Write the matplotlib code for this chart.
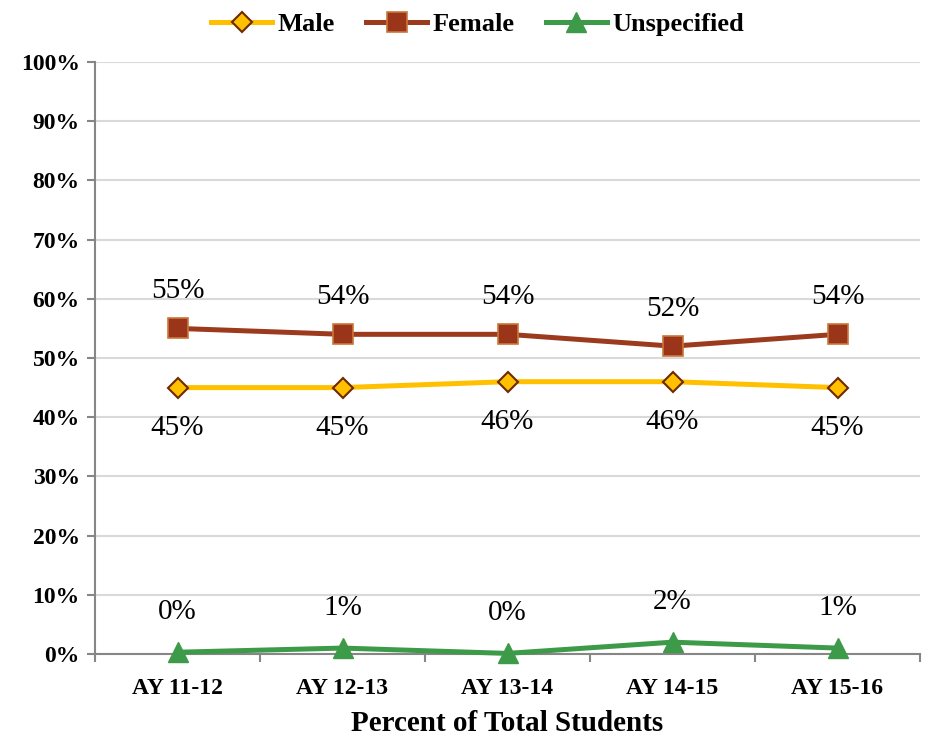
import matplotlib
matplotlib.use("Agg")
import matplotlib.pyplot as plt
from matplotlib.ticker import FuncFormatter, MultipleLocator, FixedLocator

categories = ["AY 11-12", "AY 12-13", "AY 13-14", "AY 14-15", "AY 15-16"]
male = [45, 45, 46, 46, 45]
female = [55, 54, 54, 52, 54]
unspecified = [0.3, 1, 0.1, 2, 1]
male_labels = ["45%", "45%", "46%", "46%", "45%"]
female_labels = ["55%", "54%", "54%", "52%", "54%"]
unspec_labels = ["0%", "1%", "0%", "2%", "1%"]

FONT = "Liberation Serif"
plt.rcParams["font.family"] = [FONT, "DejaVu Serif"]

fig = plt.figure(figsize=(9.29, 7.39), dpi=100)
ax = fig.add_axes([95/929, 1 - 654/739, 825/929, (654 - 62)/739])

x = list(range(len(categories)))
l1, = ax.plot(x, male, color="#FFC000", lw=3.6, marker="D", ms=10,
              mfc="#FFC000", mec="#6B2A00", mew=1.5, label="Male", zorder=3, clip_on=False)
l2, = ax.plot(x, female, color="#9C3A1E", lw=3.6, marker="s", ms=14,
              mfc="#9A3519", mec="#C8783A", mew=1.2, label="Female", zorder=3, clip_on=False)
l3, = ax.plot(x, unspecified, color="#3D9A48", lw=3.6, marker="^", ms=15,
              mfc="#3D9A48", mec="#3D9A48", label="Unspecified", zorder=3, clip_on=False)

LBL = 21
for xi, v, t in zip(x, female, female_labels):
    ax.annotate(t, (xi, v), xytext=(0, 27), textcoords="offset points",
                ha="center", va="center", fontsize=LBL, color="black")
for xi, v, t in zip(x, male, male_labels):
    ax.annotate(t, (xi, v), xytext=(0, -29), textcoords="offset points",
                ha="center", va="center", fontsize=LBL, color="black")
for xi, v, t in zip(x, unspecified, unspec_labels):
    ax.annotate(t, (xi, v), xytext=(0, 29), textcoords="offset points",
                ha="center", va="center", fontsize=LBL, color="black")

ax.set_xlim(-0.5, len(categories) - 0.5)
ax.set_ylim(0, 100)
ax.yaxis.set_major_locator(MultipleLocator(10))
ax.yaxis.set_major_formatter(FuncFormatter(lambda v, p: f"{int(v)}%"))
ax.set_xticks(x)
ax.set_xticklabels(categories)
ax.xaxis.set_minor_locator(FixedLocator([i - 0.5 for i in range(len(categories) + 1)]))
ax.tick_params(axis="x", which="major", length=0, pad=17, labelsize=17)
ax.tick_params(axis="x", which="minor", length=6, color="#868686", width=1.5, direction="out")
ax.tick_params(axis="y", length=6, color="#868686", width=1.5, labelsize=17, pad=5)
for lab in ax.get_xticklabels() + ax.get_yticklabels():
    lab.set_fontweight("bold")

ax.grid(axis="y", color="#D9D9D9", lw=1.5, zorder=0)
ax.set_axisbelow(True)
for s in ["top", "right"]:
    ax.spines[s].set_visible(False)
for s in ["left", "bottom"]:
    ax.spines[s].set_color("#868686")
    ax.spines[s].set_linewidth(1.5)

ax.set_xlabel("Percent of Total Students", fontsize=21, fontweight="bold", labelpad=8)

leg = fig.legend(handles=[l1, l2, l3], loc="upper center", bbox_to_anchor=(0.514, 1.015),
                 ncol=3, frameon=False, prop={"family": FONT, "weight": "bold", "size": 19},
                 handlelength=2.3, handletextpad=0.2, columnspacing=1.2)

fig.savefig("out.png", dpi=100)
